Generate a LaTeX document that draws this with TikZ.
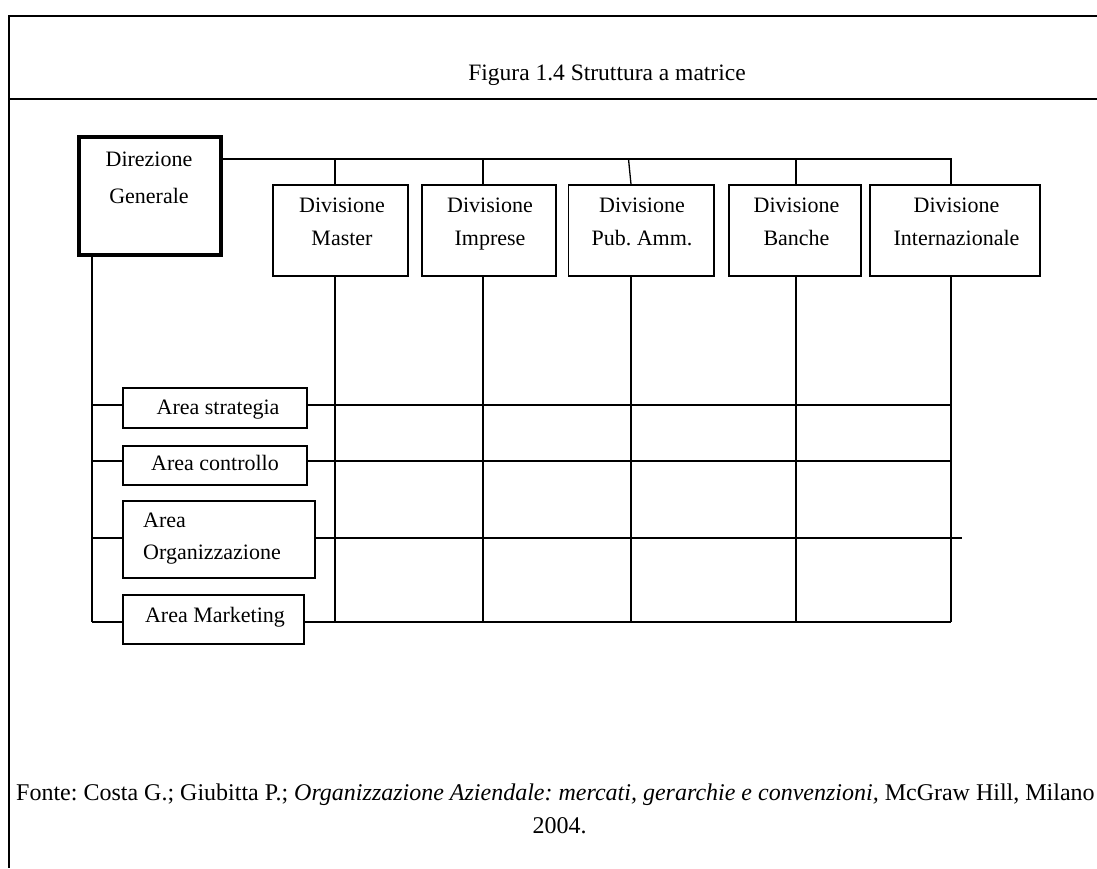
\documentclass[tikz,border=0pt]{standalone}
\usepackage{fontspec}
\setmainfont{Liberation Serif}
\frenchspacing
\usetikzlibrary{positioning}

\begin{document}
\begin{tikzpicture}
    [x=1pt, y=-1pt,
    box/.style={draw, line width=1.4pt, inner sep=0pt},
    headbox/.style={draw, line width=4.5pt, inner sep=0pt},
    txt/.style={inner sep=0pt, anchor=base, align=center, font=\fontsize{22}{33}\selectfont\frenchspacing},
    link/.style={line width=1.3pt},
    frame/.style={line width=2pt},
    ]
    \useasboundingbox (0,0) rectangle (1097,868);

    % frame and title
    \draw[frame] (1097,16) -- (9,16) -- (9,868);
    \draw[frame] (9,98.5) -- (1097,98.5);
    \node[txt, font=\fontsize{23.5}{33}\selectfont] (title) at (607,80) {Figura 1.4 Struttura a matrice};

    % boxes
    \node[headbox, minimum width=142, minimum height=118] (dg) at (150,196) {};
    \node[box, minimum width=135, minimum height=91] (master) at (340.5,230.5) {};
    \node[box, minimum width=134, minimum height=91] (imprese) at (489,230.5) {};
    \node[box, minimum width=145.5, minimum height=91] (pub) at (641.25,230.5) {};
    \node[box, minimum width=132, minimum height=91] (banche) at (795,230.5) {};
    \node[box, minimum width=170, minimum height=91] (intl) at (955,230.5) {};
    \node[box, minimum width=184, minimum height=40] (strat) at (215,408) {};
    \node[box, minimum width=184, minimum height=39] (ctrl) at (215,465.5) {};
    \node[box, minimum width=192, minimum height=77] (org) at (219,539.5) {};
    \node[box, minimum width=181, minimum height=49] (mkt) at (213.5,619.5) {};

    % texts (base = last line)
    \node[txt, font=\fontsize{22}{37}\selectfont] (dgtxt) at (149,203) {Direzione\\Generale};
    \node[txt] (mastertxt) at (342,245) {Divisione\\Master};
    \node[txt] (impresetxt) at (490,245) {Divisione\\Imprese};
    \node[txt] (pubtxt) at (642,245) {Divisione\\Pub. Amm.};
    \node[txt] (banchetxt) at (796.5,245) {Divisione\\Banche};
    \node[txt] (intltxt) at (956.5,245) {Divisione\\Internazionale};
    \node[txt] (strattxt) at (218,414) {Area strategia};
    \node[txt] (ctrltxt) at (215,470) {Area controllo};
    \node[txt, anchor=base west, align=left, font=\fontsize{22}{32}\selectfont] (orgtxt) at (143,559) {Area\\Organizzazione};
    \node[txt] (mkttxt) at (215,622) {Area Marketing};

    % columns and rows
    \coordinate (bus) at (951,159);
    \coordinate (c1) at (335,159);
    \coordinate (c2) at (483,159);
    \coordinate (c3) at (631,159);
    \coordinate (c4) at (796,159);
    \coordinate (c5) at (951,159);
    \coordinate (r1) at (92,405);
    \coordinate (r2) at (92,461);
    \coordinate (r3) at (92,538);
    \coordinate (r4) at (92,622);

    \draw[link] (dg.east |- bus) -- (bus) -- (bus |- intl.north);
    \draw[link] (c1) -- (c1 |- master.north);
    \draw[link] (c2) -- (c2 |- imprese.north);
    \draw[link] ([xshift=-2.5pt]c3) -- (c3 |- pub.north);
    \draw[link] (c4) -- (c4 |- banche.north);
    \foreach \c/\b in {c1/master, c2/imprese, c3/pub, c4/banche, c5/intl}
        \draw[link] (\c |- \b.south) -- (\c |- r4);

    \draw[link] (r1 |- dg.south) -- (r4);
    \draw[link] (r1) -- (r1 -| strat.west);
    \draw[link] (r1 -| strat.east) -- (r1 -| c5);
    \draw[link] (r2) -- (r2 -| ctrl.west);
    \draw[link] (r2 -| ctrl.east) -- (r2 -| c5);
    \draw[link] (r3) -- (r3 -| org.west);
    \draw[link] (r3 -| org.east) -- ([xshift=11pt]r3 -| c5);
    \draw[link] (r4) -- (r4 -| mkt.west);
    \draw[link] (r4 -| mkt.east) -- (r4 -| c5);

    % source
    \node[txt, anchor=base west, font=\fontsize{24}{33}\selectfont\frenchspacing] (fonte) at (16,800) {Fonte: Costa G.; Giubitta P.; \textit{Organizzazione Aziendale: mercati, gerarchie e convenzioni,} McGraw Hill, Milano};
    \node[txt, font=\fontsize{24}{33}\selectfont] (anno) at (559.5,833) {2004.};
\end{tikzpicture}
\end{document}
